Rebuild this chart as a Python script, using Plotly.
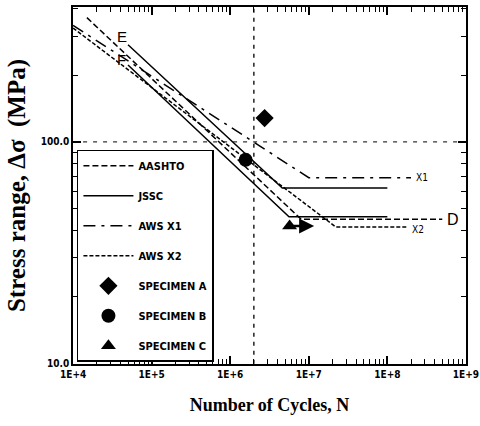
import math
import plotly.graph_objects as go

# S-N design curves: (cycles, stress range in MPa) break points
aashto_d_n = [1.5e4, 8.0e6, 5.0e8]
aashto_d_s = [363, 44.8, 44.8]

jssc_e_n = [5.0e4, 4.6e6, 1.0e8]
jssc_e_s = [274, 62, 62]

jssc_f_n = [5.0e4, 5.6e6, 1.0e8]
jssc_f_s = [222, 46, 46]

aws_x1_n = [1.0e4, 1.0e7, 2.0e8]
aws_x1_s = [335, 69, 69]

aws_x2_n = [1.0e4, 2.2e7, 1.8e8]
aws_x2_s = [326, 41.4, 41.4]

# Test specimens
spec_a_n, spec_a_s = [2.74e6], [128]
spec_b_n, spec_b_s = [1.57e6], [83]
spec_c_n, spec_c_s = [5.7e6], [41.8]
spec_c_runout_n = 1.17e7

ref_cycles = 2.0e6
ref_stress = 100.0

x_tickvals = [1e4, 1e5, 1e6, 1e7, 1e8, 1e9]
x_ticktext = ["1E+4", "1E+5", "1E+6", "1E+7", "1E+8", "1E+9"]
y_tickvals = [10, 100]
y_ticktext = ["10.0", "100.0"]

x_minor = [m * 10 ** e for e in range(4, 9) for m in range(2, 10)]
y_minor = [m * 10 for m in range(2, 10)] + [200, 300, 400]

narrow = "DejaVu Sans Condensed, Liberation Sans Narrow, Arial Narrow, sans-serif"
serif = "Liberation Serif, Times New Roman, serif"
LW = 1.5

fig = go.Figure()

# Reference lines at 2x10^6 cycles and 100 MPa
fig.add_trace(go.Scatter(x=[ref_cycles, ref_cycles], y=[10, 405], mode="lines",
                         line=dict(color="black", width=1.3, dash="4px,5px"),
                         showlegend=False, hoverinfo="skip"))
fig.add_trace(go.Scatter(x=[1e4, 1e9], y=[ref_stress, ref_stress], mode="lines",
                         line=dict(color="black", width=1, dash="4px,6px"),
                         showlegend=False, hoverinfo="skip"))

fig.add_trace(go.Scatter(x=aashto_d_n, y=aashto_d_s, mode="lines", name="AASHTO",
                         legendgroup="g1",
                         line=dict(color="black", width=LW, dash="6px,3px")))
fig.add_trace(go.Scatter(x=jssc_e_n, y=jssc_e_s, mode="lines", name="JSSC",
                         legendgroup="g2",
                         line=dict(color="black", width=LW)))
fig.add_trace(go.Scatter(x=jssc_f_n, y=jssc_f_s, mode="lines", name="JSSC F",
                         legendgroup="g2", showlegend=False,
                         line=dict(color="black", width=LW)))
fig.add_trace(go.Scatter(x=aws_x1_n, y=aws_x1_s, mode="lines", name="AWS X1",
                         legendgroup="g3",
                         line=dict(color="black", width=LW, dash="12px,6px,3px,6px")))
fig.add_trace(go.Scatter(x=aws_x2_n, y=aws_x2_s, mode="lines", name="AWS X2",
                         legendgroup="g4",
                         line=dict(color="black", width=LW, dash="4px,2px")))

fig.add_trace(go.Scatter(x=spec_a_n, y=spec_a_s, mode="markers", name="SPECIMEN A",
                         legendgroup="g5",
                         marker=dict(symbol="diamond", size=14, color="black")))
fig.add_trace(go.Scatter(x=spec_b_n, y=spec_b_s, mode="markers", name="SPECIMEN B",
                         legendgroup="g6",
                         marker=dict(symbol="circle", size=14, color="black")))
fig.add_trace(go.Scatter(x=spec_c_n, y=spec_c_s, mode="markers", name="SPECIMEN C",
                         legendgroup="g7",
                         marker=dict(symbol="triangle-up", size=13, color="black")))

# Run-out arrow for specimen C (log axes take log10 positions)
fig.add_annotation(x=math.log10(spec_c_runout_n), y=math.log10(spec_c_s[0]),
                   ax=math.log10(spec_c_n[0]), ay=math.log10(spec_c_s[0]),
                   xref="x", yref="y", axref="x", ayref="y", text="",
                   showarrow=True, arrowhead=2, arrowsize=1.2, arrowwidth=2.5,
                   arrowcolor="black")

sans = "Liberation Sans, Arial, sans-serif"
curve_labels = [
    ("E", 4.5, math.log10(300), 15, sans),
    ("F", 4.5, math.log10(236), 15, sans),
    ("D", math.log10(aashto_d_n[-1]), math.log10(aashto_d_s[-1]), 16, sans),
    ("X1", math.log10(aws_x1_n[-1]), math.log10(aws_x1_s[-1]), 10, narrow),
    ("X2", math.log10(aws_x2_n[-1]), math.log10(aws_x2_s[-1]) - 0.01, 10, narrow),
]
for txt, lx, ly, fs, fam in curve_labels:
    fig.add_annotation(x=lx, y=ly, xref="x", yref="y", text=txt, showarrow=False,
                       xanchor="left", xshift=3, font=dict(size=fs, family=fam, color="black"))

axis_common = dict(type="log", showgrid=False, zeroline=False, showline=True,
                   linecolor="black", linewidth=1.5, mirror="allticks",
                   ticks="inside", ticklen=8, tickwidth=1.5, tickcolor="black",
                   ticklabeloverflow="allow", automargin=False,
                   tickfont=dict(family=narrow, size=10, color="black", weight="bold"))

fig.update_xaxes(**axis_common, range=[3.999, 9.001], tickvals=x_tickvals, ticktext=x_ticktext,
                 minor=dict(tickvals=x_minor, ticks="inside", ticklen=5, tickwidth=1.2,
                            tickcolor="black"),
                 title=dict(text="<b>Number of Cycles, N</b>",
                            font=dict(family=serif, size=18, color="black"), standoff=20))
fig.update_yaxes(**axis_common, range=[0.999, 2.608], tickvals=y_tickvals, ticktext=y_ticktext,
                 minor=dict(tickvals=y_minor, ticks="inside", ticklen=5, tickwidth=1.2,
                            tickcolor="black"),
                 title=dict(text="<b>Stress range, \u0394\u03c3\u00a0\u00a0(MPa)</b>",
                            font=dict(family=serif, size=25, color="black"), standoff=8))

fig.update_layout(
    width=480, height=426,
    margin=dict(l=73, r=14, t=7, b=62),
    paper_bgcolor="white", plot_bgcolor="white",
    legend=dict(x=0.01, y=0.60, xanchor="left", yanchor="top",
                bgcolor="white", bordercolor="black", borderwidth=1.5,
                font=dict(family=narrow, size=11, color="black", weight="bold"),
                traceorder="grouped", tracegroupgap=11, itemwidth=50),
)

fig.write_html("out.html")
